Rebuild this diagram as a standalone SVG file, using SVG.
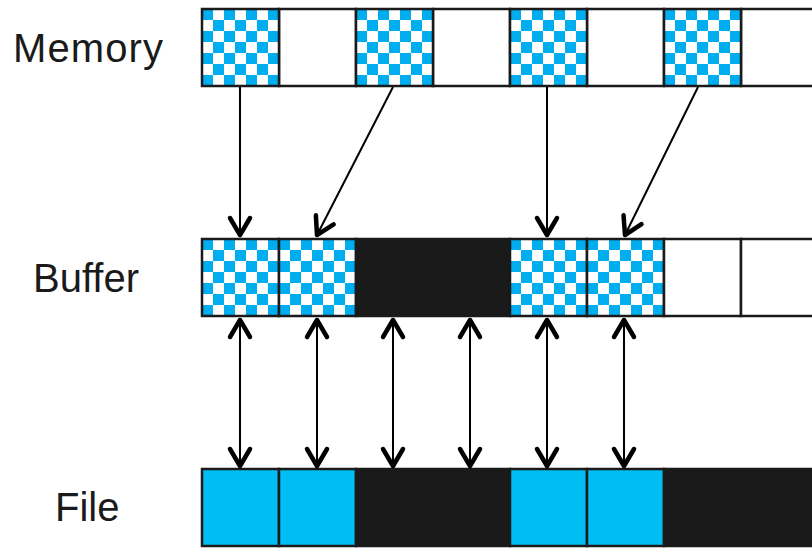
<svg xmlns="http://www.w3.org/2000/svg" width="812" height="550" viewBox="0 0 812 550">
<defs>
<pattern id="chk" patternUnits="userSpaceOnUse" x="0" y="0" width="22" height="22">
<rect width="22" height="22" fill="#ffffff"/>
<rect x="0" y="0" width="11" height="11" fill="#00adef"/>
<rect x="11" y="11" width="11" height="11" fill="#00adef"/>
</pattern>
<marker id="ah" markerUnits="userSpaceOnUse" viewBox="-24 -14 30 28" refX="0" refY="0" markerWidth="30" markerHeight="28" orient="auto-start-reverse" overflow="visible">
<path d="M-17,-10 L0,0 L-17,10" fill="none" stroke="#000" stroke-width="4.5" stroke-linecap="round" stroke-linejoin="round"/>
</marker>
<style>
.lbl{font-family:"Liberation Sans",Arial,sans-serif;font-size:40px;fill:#1a1a1a}
.cell{stroke:#1a1a1a;stroke-width:2.5}
.chk{fill:url(#chk)}
.wh{fill:#ffffff}
.bk{fill:#1a1a1a}
.bl{fill:#00bef2}
.con{stroke:#000;stroke-width:2;fill:none}
.one{marker-end:url(#ah)}
.two{marker-start:url(#ah);marker-end:url(#ah)}
</style>
</defs>
<rect width="812" height="550" fill="#ffffff"/>
<g id="label-memory"><text class="lbl" x="13" y="62" textLength="150" lengthAdjust="spacing">Memory</text></g>
<g id="label-buffer"><text class="lbl" x="33" y="292">Buffer</text></g>
<g id="label-file"><text class="lbl" x="55" y="521">File</text></g>
<g id="memory">
<rect class="cell wh" x="279" y="9" width="77" height="77"/>
<rect class="cell wh" x="433" y="9" width="77" height="77"/>
<rect class="cell wh" x="587" y="9" width="77" height="77"/>
<rect class="cell wh" x="741" y="9" width="80" height="77"/>
<g transform="translate(202,9)"><rect class="cell chk" width="77" height="77"/></g>
<g transform="translate(356,9)"><rect class="cell chk" width="77" height="77"/></g>
<g transform="translate(510,9)"><rect class="cell chk" width="77" height="77"/></g>
<g transform="translate(664,9)"><rect class="cell chk" width="77" height="77"/></g>
</g>
<g id="buffer">
<g transform="translate(202,239)"><rect class="cell chk" width="77" height="77"/></g>
<g transform="translate(279,239)"><rect class="cell chk" width="77" height="77"/></g>
<rect class="cell bk" x="356" y="239" width="154" height="77"/>
<g transform="translate(510,239)"><rect class="cell chk" width="77" height="77"/></g>
<g transform="translate(587,239)"><rect class="cell chk" width="77" height="77"/></g>
<rect class="cell wh" x="664" y="239" width="77" height="77"/>
<rect class="cell wh" x="741" y="239" width="80" height="77"/>
</g>
<g id="file">
<rect class="cell bl" x="202" y="469" width="77" height="77"/>
<rect class="cell bl" x="279" y="469" width="77" height="77"/>
<rect class="cell bk" x="356" y="469" width="154" height="77"/>
<rect class="cell bl" x="510" y="469" width="77" height="77"/>
<rect class="cell bl" x="587" y="469" width="77" height="77"/>
<rect class="cell bk" x="664" y="469" width="160" height="77"/>
</g>
<g id="connectors">
<line class="con one" x1="240" y1="87" x2="240" y2="235"/>
<line class="con one" x1="393" y1="87" x2="317" y2="235"/>
<line class="con one" x1="547" y1="87" x2="547" y2="235"/>
<line class="con one" x1="698" y1="87" x2="625" y2="235"/>
<line class="con two" x1="240" y1="320" x2="240" y2="466"/>
<line class="con two" x1="317" y1="320" x2="317" y2="466"/>
<line class="con two" x1="393" y1="320" x2="393" y2="466"/>
<line class="con two" x1="470" y1="320" x2="470" y2="466"/>
<line class="con two" x1="547" y1="320" x2="547" y2="466"/>
<line class="con two" x1="624" y1="320" x2="624" y2="466"/>
</g>
</svg>
